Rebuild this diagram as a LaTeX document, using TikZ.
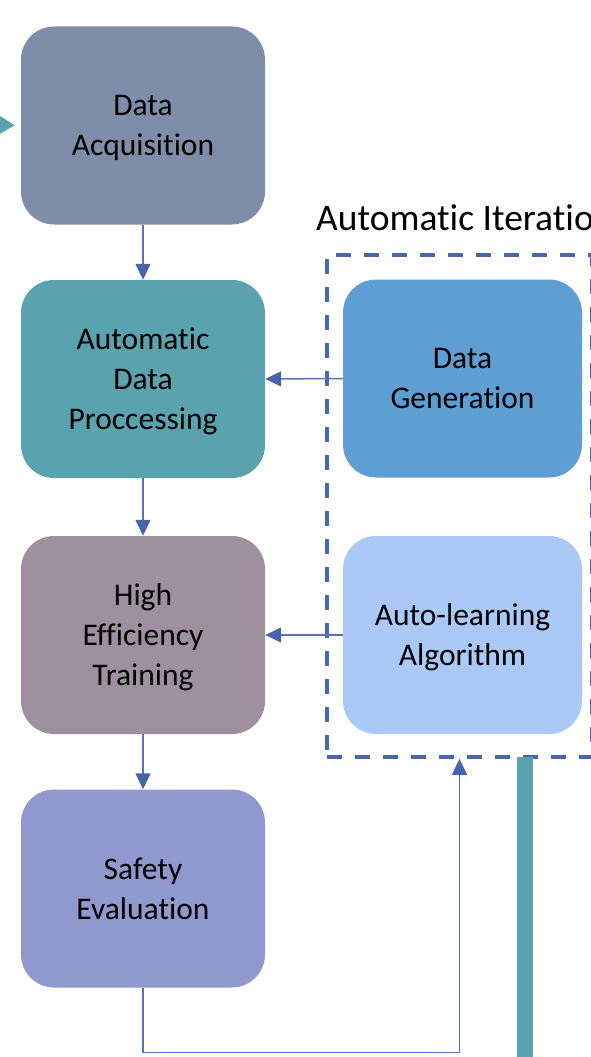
\documentclass[tikz,border=0pt]{standalone}
\usepackage{fontspec}
\setmainfont{Carlito}[Ligatures=NoCommon]
\usetikzlibrary{arrows.meta}

\definecolor{acqfill}{HTML}{7F8EA8}
\definecolor{procfill}{HTML}{5AA2AE}
\definecolor{trainfill}{HTML}{9F90A0}
\definecolor{safefill}{HTML}{9198CE}
\definecolor{genfill}{HTML}{5F9ED2}
\definecolor{algofill}{HTML}{ABC9F7}
\definecolor{linkline}{HTML}{5773B8}
\definecolor{linkhead}{HTML}{4865AC}
\definecolor{framecol}{HTML}{4A67AD}

\tikzset{
  stagebox/.style={rounded corners=33pt, minimum width=244pt, minimum height=198pt,
    inner sep=0pt, align=center, text=black, text depth=0pt,
    font=\fontsize{31.5}{40}\selectfont},
  sidebox/.style={stagebox, minimum width=239pt},
  flow/.style={draw=linkline, line width=1.5pt,
    -{Triangle[length=16pt,width=15pt,color=linkhead]}},
  iterframe/.style={draw=framecol, line width=3.5pt, dash pattern=on 15pt off 13pt,
    minimum width=265pt, minimum height=502pt, inner sep=0pt},
  tealband/.style={draw=procfill, line width=16pt},
}

\begin{document}
\begin{tikzpicture}[x=1pt, y=-1pt]
\useasboundingbox (0,0) rectangle (591,1057);

% main pipeline
\node[stagebox, fill=acqfill]   (acq)   at (143,125.5) {Data\\Acquisition};
\node[stagebox, fill=procfill]  (proc)  at (143,379)   {Automatic\\Data\\Proccessing};
\node[stagebox, fill=trainfill] (train) at (143,635)   {High\\Efficiency\\Training};
\node[stagebox, fill=safefill]  (safe)  at (143,888.5) {Safety\\Evaluation};

% iteration group
\node[iterframe] (iter) at (459.5,506) {};
\node[anchor=base west, font=\fontsize{37.5}{45}\selectfont, inner sep=0pt]
  (itertitle) at (316,230) {Automatic Iteration};
\node[sidebox, fill=genfill]  (gen)  at (462.5,378.5) {Data\\Generation};
\node[sidebox, fill=algofill] (algo) at (462.5,635)   {Auto-learning\\Algorithm};

% pipeline links
\draw[flow] (acq.south)   -- (proc.north);
\draw[flow] (proc.south)  -- (train.north);
\draw[flow] (train.south) -- (safe.north);
\draw[flow] (gen.west)  -- (proc.east);
\draw[flow] (algo.west) -- (train.east);

% evaluation feeds back into the iteration group
\draw[flow] (safe.south) -- ++(0,65) -| (iter.south);

% thick return band
\coordinate (bandtop) at (525,757);
\coordinate (bandout) at (525,1080);
\draw[tealband] (bandtop) -- (bandout);
\coordinate (bandin) at (-60,123.5);
\draw[tealband, shorten >=6pt, -{Triangle[length=20pt,width=23pt,color=procfill]}]
  (bandin) -- (acq.west);
\end{tikzpicture}
\end{document}
